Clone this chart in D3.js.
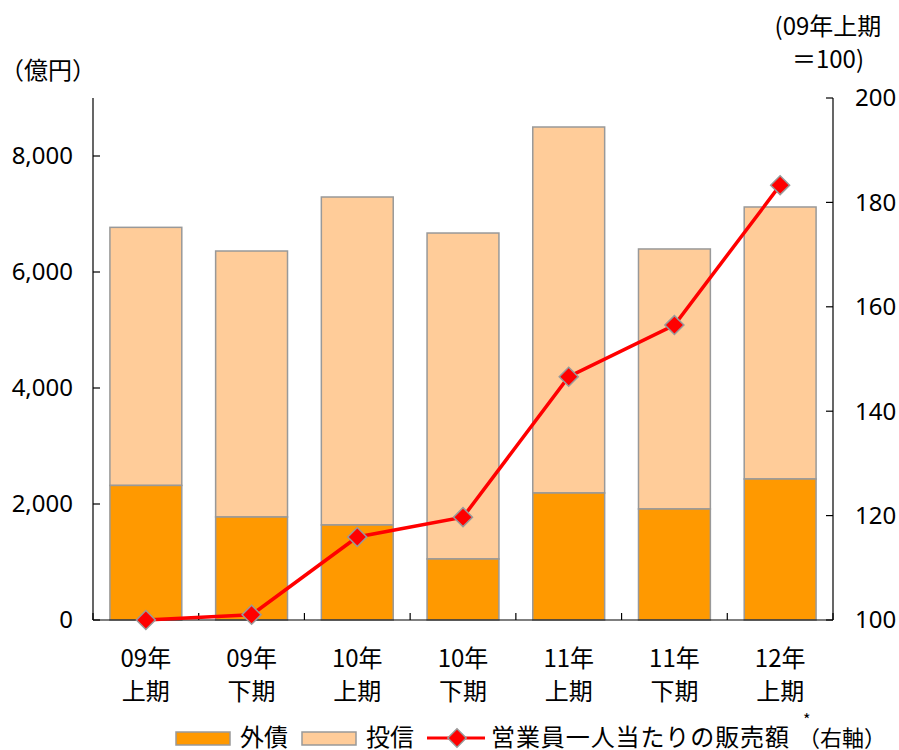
<!DOCTYPE html>
<html><head><meta charset="utf-8">
<script src="https://cdn.jsdelivr.net/npm/d3@7"></script>
<style>body{margin:0;background:#fff}svg{display:block}text{font-family:"Noto Sans CJK JP","Noto Sans",sans-serif;fill:#000}</style>
</head><body><div id="c"></div>
<script>
const categoriesTop = ["09年","09年","10年","10年","11年","11年","12年"];
const categoriesBottom = ["上期","下期","上期","下期","上期","下期","上期"];
const gaisai = [2320, 1776, 1638, 1052, 2190, 1914, 2431];
const toushinTotal = [6770, 6362, 7293, 6672, 8500, 6397, 7121];
const perPerson = [100, 101, 115.9, 119.7, 146.6, 156.5, 183.3];
const leftTicks = [0, 2000, 4000, 6000, 8000];
const rightTicks = [100, 120, 140, 160, 180, 200];

const W = 899, H = 750;
const svg = d3.select("#c").append("svg").attr("width", W).attr("height", H);
const x0 = 93, x1 = 833, yTop = 98, yBot = 620;
const idx = d3.range(categoriesTop.length);
const x = d3.scaleBand().domain(idx).range([x0, x1]).paddingInner(0.32).paddingOuter(0.16);
const xc = i => x(i) + x.bandwidth() / 2;
const yL = d3.scaleLinear().domain([0, 9000]).range([yBot, yTop]);
const yR = d3.scaleLinear().domain([100, 200]).range([yBot, yTop]);
const FS = 24;

// bars
const g = svg.append("g");
g.selectAll(".t").data(idx).enter().append("rect")
  .attr("x", i => x(i)).attr("width", x.bandwidth())
  .attr("y", i => yL(toushinTotal[i])).attr("height", i => yL(gaisai[i]) - yL(toushinTotal[i]))
  .attr("fill", "#FFCC99").attr("stroke", "#999").attr("stroke-width", 1.5);
g.selectAll(".g").data(idx).enter().append("rect")
  .attr("x", i => x(i)).attr("width", x.bandwidth())
  .attr("y", i => yL(gaisai[i])).attr("height", i => yBot - yL(gaisai[i]))
  .attr("fill", "#FF9900").attr("stroke", "#999").attr("stroke-width", 1.5);

// axes
const ax = svg.append("g").attr("stroke", "#000").attr("stroke-width", 1.2);
ax.append("line").attr("x1", x0).attr("x2", x0).attr("y1", yTop).attr("y2", yBot);
ax.append("line").attr("x1", x1).attr("x2", x1).attr("y1", yTop).attr("y2", yBot);
ax.append("line").attr("x1", x0).attr("x2", x1).attr("y1", yBot).attr("y2", yBot);
leftTicks.forEach(t => ax.append("line").attr("x1", x0).attr("x2", x0 + 7).attr("y1", yL(t)).attr("y2", yL(t)));
rightTicks.forEach(t => ax.append("line").attr("x1", x1 - 7).attr("x2", x1).attr("y1", yR(t)).attr("y2", yR(t)));
d3.range(categoriesTop.length + 1).forEach(i => {
  const xx = x0 + (x1 - x0) * i / categoriesTop.length;
  ax.append("line").attr("x1", xx).attr("x2", xx).attr("y1", yBot).attr("y2", yBot - 7);
});

svg.selectAll(".lt").data(leftTicks).enter().append("text")
  .attr("x", 73).attr("y", d => yL(d)).attr("dy", "0.35em").attr("text-anchor", "end")
  .attr("font-size", FS).style("font-family", "'Noto Sans',sans-serif").text(d => d3.format(",")(d));
svg.selectAll(".rt").data(rightTicks).enter().append("text")
  .attr("x", 855).attr("y", d => yR(d)).attr("dy", "0.35em").attr("text-anchor", "start")
  .attr("font-size", FS).style("font-family", "'Noto Sans',sans-serif").text(d => d);

idx.forEach(i => {
  svg.append("text").attr("x", xc(i)).attr("y", 667).attr("text-anchor", "middle").attr("font-size", FS).text(categoriesTop[i]);
  svg.append("text").attr("x", xc(i)).attr("y", 700).attr("text-anchor", "middle").attr("font-size", FS).text(categoriesBottom[i]);
});

// line
const line = d3.line().x((d, i) => xc(i)).y(d => yR(d));
svg.append("path").datum(perPerson).attr("d", line).attr("fill", "none").attr("stroke", "#FF0000").attr("stroke-width", 3.5);
svg.selectAll(".m").data(perPerson).enter().append("path")
  .attr("d", d3.symbol().type(d3.symbolSquare).size(180))
  .attr("transform", (d, i) => `translate(${xc(i)},${yR(d)}) rotate(45)`)
  .attr("fill", "#FF0000").attr("stroke", "#999").attr("stroke-width", 1.5);

// titles
svg.append("text").attr("x", 0).attr("y", 79).attr("font-size", FS).text("（億円）");
svg.append("text").attr("x", 828).attr("y", 35).attr("text-anchor", "middle").attr("font-size", FS).text("(09年上期");
svg.append("text").attr("x", 828).attr("y", 68).attr("text-anchor", "middle").attr("font-size", FS).text("＝100)");

// legend
const ly = 738;
svg.append("rect").attr("x", 176).attr("y", ly - 6).attr("width", 54).attr("height", 13).attr("fill", "#FF9900").attr("stroke", "#999").attr("stroke-width", 1.5);
svg.append("text").attr("x", 240).attr("y", ly + 8).attr("font-size", FS).text("外債");
svg.append("rect").attr("x", 302).attr("y", ly - 6).attr("width", 54).attr("height", 13).attr("fill", "#FFCC99").attr("stroke", "#999").attr("stroke-width", 1.5);
svg.append("text").attr("x", 366).attr("y", ly + 8).attr("font-size", FS).text("投信");
svg.append("line").attr("x1", 427).attr("x2", 485).attr("y1", ly).attr("y2", ly).attr("stroke", "#FF0000").attr("stroke-width", 3);
svg.append("path").attr("d", d3.symbol().type(d3.symbolSquare).size(170)).attr("transform", `translate(457,${ly}) rotate(45)`)
  .attr("fill", "#FF0000").attr("stroke", "#999").attr("stroke-width", 1.5);
svg.append("text").attr("x", 491).attr("y", ly + 8).attr("font-size", FS).attr("textLength", 298).text("営業員一人当たりの販売額");
svg.append("text").attr("x", 803).attr("y", 726).attr("font-size", 16).text("*");
svg.append("text").attr("x", 798).attr("y", ly + 8).attr("font-size", 22).text("（右軸）");
</script></body></html>
